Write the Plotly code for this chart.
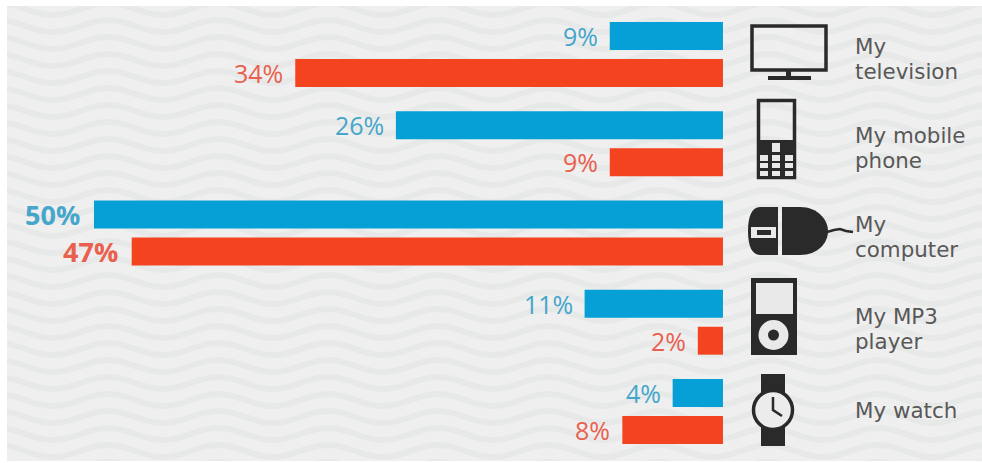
import math
import plotly.graph_objects as go

W, H = 982, 463
categories = ["television", "mobile", "computer", "mp3", "watch"]
label_lines = [["My", "television"], ["My mobile", "phone"], ["My", "computer"], ["My MP3", "player"], ["My watch"]]
label_center_px = [59, 148, 237, 329, 410]
blue_values = [9, 26, 50, 11, 4]
red_values = [34, 9, 47, 2, 8]

BLUE, RED = "#06a0d6", "#f4431f"
BLUE_T, RED_T = "#45a6cb", "#e9604f"
DARK = "#2b2a2a"
BG = "#efefef"
WAVE = "#e7e8e8"
FONT = "Open Sans"
LABEL_FONT = "DejaVu Sans"


def X(x):
    return round(x / W, 5)


def Y(y):
    return round(1 - y / H, 5)


def pt(x, y):
    return f"{X(x)},{Y(y)}"


shapes = []


def path(d, fill=DARK, line=None, width=0):
    shapes.append(dict(type="path", xref="paper", yref="paper", path=d, fillcolor=fill,
                       line=dict(color=line or fill, width=width), layer="below"))


def rect(x0, y0, x1, y1, fill=DARK, line=None, width=0):
    shapes.append(dict(type="rect", xref="paper", yref="paper", x0=X(x0), x1=X(x1), y0=Y(y0), y1=Y(y1),
                       fillcolor=fill, line=dict(color=line or fill, width=width), layer="below"))


def circle(cx, cy, r, fill=DARK, line=None, width=0):
    rect_d = dict(type="circle", xref="paper", yref="paper", x0=X(cx - r), x1=X(cx + r), y0=Y(cy + r), y1=Y(cy - r),
                  fillcolor=fill, line=dict(color=line or fill, width=width), layer="below")
    shapes.append(rect_d)


def stroke(points, color=DARK, width=3):
    d = "M" + " L".join(pt(*p) for p in points)
    shapes.append(dict(type="path", xref="paper", yref="paper", path=d, fillcolor="rgba(0,0,0,0)",
                       line=dict(color=color, width=width), layer="below"))


# decorative panel with wave texture
rect(0, 0, W, H, fill=BG)
for k in range(-1, 29):
    y0 = 9 + k * 17
    pts = [(x, y0 + 6 * math.cos(2 * math.pi * (x - 53) / 110)) for x in range(0, W + 6, 6)]
    stroke(pts, color=WAVE, width=6)
rect(0, 0, W, 6, fill="white")
rect(0, 0, 7, H, fill="white")
rect(0, 461, W, H, fill="white")

# television
rect(752, 26, 826, 70, fill="rgba(0,0,0,0)", line=DARK, width=3.5)
rect(786, 71, 791, 78)
rect(768, 76, 811, 80)
# phone
rect(758.5, 100.5, 794.5, 177.5, fill="rgba(0,0,0,0)", line=DARK, width=3.5)
rect(757, 140, 796, 179)
rect(772, 143, 780, 152, fill="#e9e9e9")
for ky0, ky1 in [(155, 161), (163, 168), (171, 176)]:
    for kx0, kx1 in [(760, 768), (772, 780), (785, 793)]:
        rect(kx0, ky0, kx1, ky1, fill="#e9e9e9")
# mouse
path("M" + pt(778, 207) + " L" + pt(760, 207) + " C" + pt(752, 207) + " " + pt(748, 216) + " " + pt(748, 231)
     + " C" + pt(748, 246) + " " + pt(752, 255) + " " + pt(760, 255) + " L" + pt(778, 255) + " Z")
path("M" + pt(782, 207) + " L" + pt(800, 207) + " C" + pt(818, 207) + " " + pt(828, 220) + " " + pt(828, 231)
     + " C" + pt(828, 243) + " " + pt(818, 255) + " " + pt(800, 255) + " L" + pt(782, 255) + " Z")
rect(751, 227, 776, 238, fill="#e9e9e9")
rect(757, 230, 771, 235)
stroke([(827, 232), (834, 230), (840, 229), (846, 231), (853, 232)], width=2.5)
# mp3 player
rect(751, 278, 797, 355)
rect(756, 283, 793, 314, fill="#e9e9e9")
circle(773.5, 335, 15, fill="#e9e9e9")
circle(773.5, 335, 5.5)
# watch
rect(761, 374, 785, 394)
rect(761, 427, 785, 446)
circle(773, 410, 19.5, fill="#ececec", line=DARK, width=3.5)
stroke([(773, 397), (773, 410), (782, 416)], width=2.5)

fig = go.Figure()
fig.add_bar(y=categories, x=blue_values, orientation="h", name="Blue", marker=dict(color=BLUE, line_width=0), hoverinfo="x+y")
fig.add_bar(y=categories, x=red_values, orientation="h", name="Red", marker=dict(color=RED, line_width=0), hoverinfo="x+y")

annotations = []
for i, c in enumerate(categories):
    for vals, col, shift in ((blue_values, BLUE_T, 18.5), (red_values, RED_T, -18.5)):
        v = vals[i]
        bold = v >= 47
        annotations.append(dict(x=v, y=c, xref="x", yref="y", text=f"<b>{v}%</b>" if bold else f"{v}%",
                                showarrow=False, xanchor="right", xshift=-11.5 if bold else -10, yshift=shift,
                                font=dict(family=FONT, size=27 if bold else 25, color=col)))
    lines = label_lines[i]
    for j, line in enumerate(lines):
        cy = label_center_px[i] + (j - (len(lines) - 1) / 2) * 25
        annotations.append(dict(x=X(855), y=Y(cy), xref="paper", yref="paper", text=line,
                                align="left", showarrow=False, xanchor="left", yanchor="middle", xshift=-2,
                                font=dict(family=LABEL_FONT, size=21.4, color="#585858")))

fig.update_layout(
    width=W, height=H, margin=dict(l=0, r=0, t=0, b=0), showlegend=False,
    barmode="group", bargap=0.173, bargroupgap=0.243,
    paper_bgcolor="white", plot_bgcolor="rgba(0,0,0,0)",
    xaxis=dict(range=[57.47, -20.59], visible=False, fixedrange=True),
    yaxis=dict(range=[4.577, -0.611], visible=False, type="category", categoryorder="array",
               categoryarray=categories, fixedrange=True),
    shapes=shapes, annotations=annotations,
)
fig.write_html("out.html", config=dict(displayModeBar=False),
               post_script="document.body.style.margin='0';document.body.style.overflow='hidden';")
